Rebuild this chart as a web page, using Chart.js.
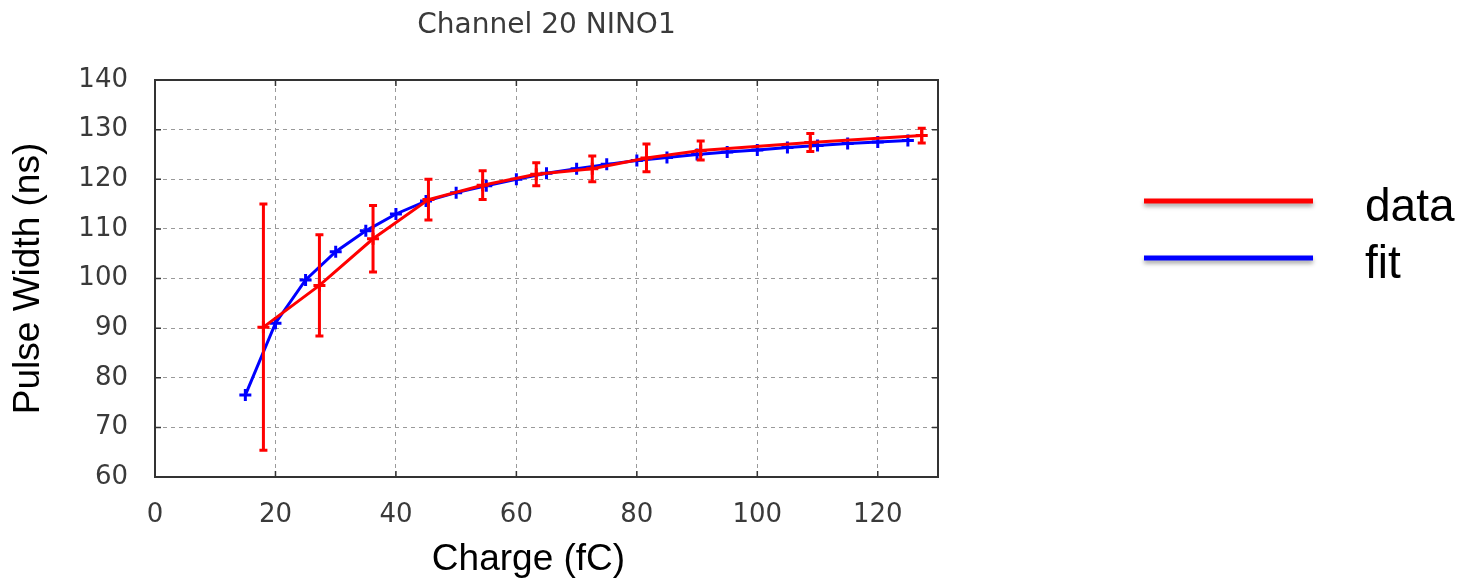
<!DOCTYPE html>
<html>
<head>
<meta charset="utf-8">
<title>Channel 20 NINO1</title>
<script src="https://cdn.jsdelivr.net/npm/chart.js@4/dist/chart.umd.min.js"></script>
<style>
  body { margin: 0; background: #fff; }
  canvas { display: block; }
</style>
</head>
<body>
<canvas id="mycanvas" width="1462" height="580"></canvas>
<script>
// measured data points (charge in fC, pulse width in ns, error +/-)
const dataCharge = [18.0, 27.3, 36.2, 45.4, 54.4, 63.3, 72.6, 81.6, 90.6, 108.8, 127.3];
const dataWidth  = [90.2, 98.6, 108.0, 115.9, 118.8, 121.0, 122.1, 124.3, 125.8, 127.4, 128.8];
const dataErr    = [24.8, 10.2, 6.7, 4.1, 2.9, 2.3, 2.6, 2.8, 1.9, 1.8, 1.5];

// fit curve, sampled every 5 fC
const fitCharge = [15, 20, 25, 30, 35, 40, 45, 50, 55, 60, 65, 70, 75, 80, 85, 90, 95, 100, 105, 110, 115, 120, 125];
const fitWidth  = [76.5, 91.0, 99.7, 105.4, 109.6, 113.0, 115.6, 117.3, 118.7, 120.0, 121.2, 122.1, 123.0, 123.8, 124.4, 125.0, 125.5, 125.9, 126.4, 126.8, 127.2, 127.5, 127.8];

const xTicks = [0, 20, 40, 60, 80, 100, 120];
const yTicks = [60, 70, 80, 90, 100, 110, 120, 130, 140];

const legendLabels = ['data', 'fit'];
const legendColors = ['#ff0000', '#0000ff'];

function toPoints(xs, ys) {
  var pts = [];
  for (var i = 0; i < xs.length; i++) {
    pts.push({x: xs[i], y: ys[i]});
  }
  return pts;
}

// error bars for the red data set
const errorBars = {
  id: 'errorBars',
  afterDatasetsDraw(chart) {
    const ctx = chart.ctx;
    const xs = chart.scales.x, ys = chart.scales.y;
    ctx.save();
    ctx.strokeStyle = '#ff0000';
    ctx.lineWidth = 3;
    for (var i = 0; i < dataCharge.length; i++) {
      var px = xs.getPixelForValue(dataCharge[i]);
      var top = ys.getPixelForValue(dataWidth[i] + dataErr[i]);
      var bot = ys.getPixelForValue(dataWidth[i] - dataErr[i]);
      ctx.beginPath();
      ctx.moveTo(px, top); ctx.lineTo(px, bot);
      ctx.moveTo(px - 4, top); ctx.lineTo(px + 4, top);
      ctx.moveTo(px - 4, bot); ctx.lineTo(px + 4, bot);
      ctx.stroke();
    }
    ctx.restore();
  }
};

// box around plot + inward tick marks on all four sides
const frame = {
  id: 'frame',
  afterDraw(chart) {
    const ctx = chart.ctx;
    const a = chart.chartArea;
    const xs = chart.scales.x, ys = chart.scales.y;
    ctx.save();
    ctx.strokeStyle = '#333';
    ctx.lineWidth = 1.5;
    ctx.beginPath();
    xTicks.forEach(function(v) {
      var px = xs.getPixelForValue(v);
      ctx.moveTo(px, a.bottom); ctx.lineTo(px, a.bottom - 6);
      ctx.moveTo(px, a.top); ctx.lineTo(px, a.top + 6);
    });
    yTicks.forEach(function(v) {
      var py = ys.getPixelForValue(v);
      ctx.moveTo(a.left, py); ctx.lineTo(a.left + 6, py);
      ctx.moveTo(a.right, py); ctx.lineTo(a.right - 6, py);
    });
    ctx.stroke();
    ctx.lineWidth = 2;
    ctx.strokeRect(a.left, a.top, a.right - a.left, a.bottom - a.top);

    // x axis title sits a bit left of the plot centre in the original
    ctx.fillStyle = '#000';
    ctx.font = '37px "Liberation Sans", Arial, sans-serif';
    ctx.textAlign = 'center';
    ctx.textBaseline = 'alphabetic';
    ctx.fillText('Charge (fC)', (a.left + a.right) / 2 - 18, 570);
    ctx.restore();
  }
};

// legend sits far to the right, drawn by hand
const sideLegend = {
  id: 'sideLegend',
  afterDraw(chart) {
    const ctx = chart.ctx;
    ctx.save();
    for (var i = 0; i < legendLabels.length; i++) {
      var y = 201 + i * 57;
      ctx.save();
      ctx.shadowColor = 'rgba(0,0,0,0.35)';
      ctx.shadowBlur = 4;
      ctx.shadowOffsetY = 3;
      ctx.strokeStyle = legendColors[i];
      ctx.lineWidth = 5;
      ctx.beginPath();
      ctx.moveTo(1144, y);
      ctx.lineTo(1313, y);
      ctx.stroke();
      ctx.restore();
      ctx.fillStyle = '#000';
      ctx.font = '46px "Liberation Sans", Arial, sans-serif';
      ctx.textBaseline = 'alphabetic';
      ctx.fillText(legendLabels[i], 1365, y + 20);
    }
    ctx.restore();
  }
};

const tickFont = {family: '"DejaVu Sans", sans-serif', size: 26};
const gridOpts = {color: '#9a9a9a', lineWidth: 1, drawTicks: false};

const ctx = document.getElementById('mycanvas');
window.myChart = new Chart(ctx, {
  type: 'line',
  data: {
    datasets: [{
      label: 'data',
      data: toPoints(dataCharge, dataWidth),
      borderColor: '#ff0000',
      backgroundColor: '#ff0000',
      borderWidth: 3,
      pointStyle: 'cross',
      pointRadius: 6,
      pointBorderWidth: 3,
      tension: 0
    }, {
      label: 'fit',
      data: toPoints(fitCharge, fitWidth),
      borderColor: '#0000ff',
      backgroundColor: '#0000ff',
      borderWidth: 3,
      pointStyle: 'cross',
      pointRadius: 6,
      pointBorderWidth: 3,
      tension: 0
    }]
  },
  options: {
    responsive: false,
    animation: false,
    layout: {padding: {right: 524}},
    plugins: {
      legend: {display: false},
      tooltip: {enabled: false},
      title: {
        display: true,
        text: 'Channel 20 NINO1',
        fullSize: false,
        color: '#3a3a3a',
        font: {family: '"DejaVu Sans", sans-serif', size: 28, weight: 'normal'},
        padding: {top: 9, bottom: 37.4}
      }
    },
    scales: {
      x: {
        type: 'linear',
        min: 0,
        max: 130,
        afterBuildTicks: function(scale) {
          scale.ticks = xTicks.map(function(v) { return {value: v}; });
        },
        afterFit: function(scale) { scale.height = 103; },
        grid: gridOpts,
        border: {display: false, dash: [4, 4]},
        ticks: {color: '#3a3a3a', font: tickFont, padding: 23, maxRotation: 0, autoSkip: false}
      },
      y: {
        type: 'linear',
        min: 60,
        max: 140,
        afterBuildTicks: function(scale) {
          scale.ticks = yTicks.map(function(v) { return {value: v}; });
        },
        afterFit: function(scale) { scale.width = 155; },
        grid: gridOpts,
        border: {display: false, dash: [4, 4]},
        ticks: {color: '#3a3a3a', font: tickFont, padding: 27, autoSkip: false},
        title: {
          display: true,
          text: 'Pulse Width (ns)',
          color: '#000',
          font: {family: '"Liberation Sans", Arial, sans-serif', size: 37},
          padding: {top: 7, bottom: 0}
        }
      }
    }
  },
  plugins: [errorBars, frame, sideLegend]
});
</script>
</body>
</html>
